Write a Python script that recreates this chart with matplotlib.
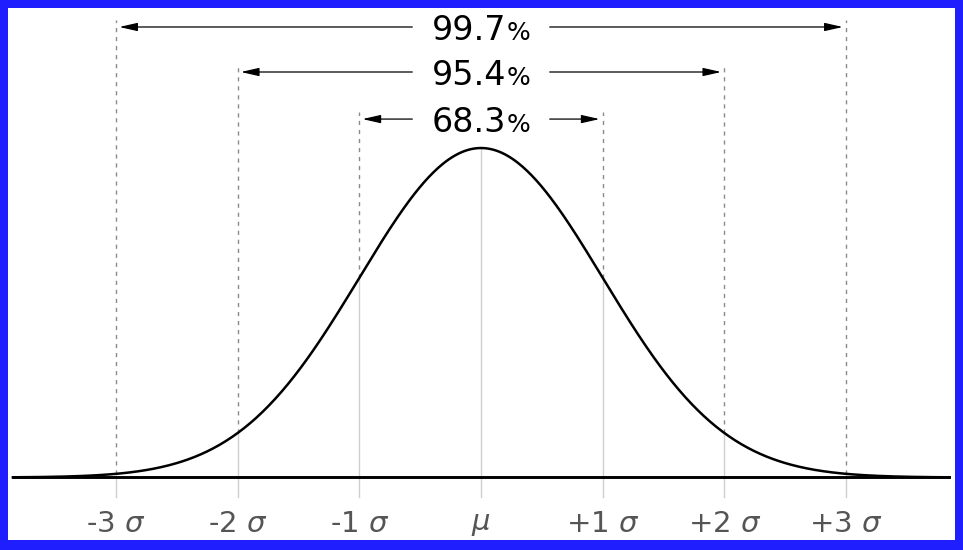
import matplotlib.pyplot as plt
import numpy as np

# sigma positions, their tick labels and the coverage shown above each pair
SIGMAS = [-3, -2, -1, 0, 1, 2, 3]
TICK_LABELS = ['-3 $\\sigma$', '-2 $\\sigma$', '-1 $\\sigma$', '$\\mu$',
               '+1 $\\sigma$', '+2 $\\sigma$', '+3 $\\sigma$']
SPANS = [1, 2, 3]
PERCENTS = ['68.3', '95.4', '99.7']
MU, SIGMA = 0.0, 1.0


def pdf(x):
    return np.exp(-0.5 * ((x - MU) / SIGMA) ** 2) / (SIGMA * np.sqrt(2 * np.pi))


def main():
    fig = plt.figure(figsize=(9.63, 5.5), dpi=100, facecolor='#1e1eff')
    ax = fig.add_axes([8 / 963, 10 / 550, 947 / 963, 532 / 550])
    ax.set_facecolor('white')
    for s in ax.spines.values():
        s.set_visible(False)
    ax.set_xlim(-3.89, 3.898)
    ax.set_ylim(-0.0757, 0.5685)
    ax.set_yticks([])

    bottom = -0.0236
    arrow_y = {1: 0.434, 2: 0.491, 3: 0.5455}

    # grey guide lines: solid below the curve, dashed above it
    for k in SIGMAS:
        ax.plot([k, k], [bottom, pdf(k)], color='#cfcfcf', lw=1.0, zorder=1)
        if k != 0:
            top = arrow_y[abs(k)] + 0.008
            ax.plot([k, k], [pdf(k), top], color='#8a8a8a', lw=1.0,
                    dashes=(3, 3.5), zorder=1)

    x = np.linspace(-3.85, 3.85, 600)
    ax.plot([-3.85, 3.85], [0, 0], color='black', lw=2.1, zorder=3)
    ax.plot(x, pdf(x), color='black', lw=1.8, zorder=3)

    gap = 0.565
    for k, p in zip(SPANS, PERCENTS):
        y = arrow_y[k]
        for sgn in (-1, 1):
            ax.annotate('', xy=(sgn * (k - 0.025), y), xytext=(sgn * gap, y),
                        arrowprops=dict(arrowstyle='-|>,head_length=1.1,head_width=0.25',
                                        color='black', lw=0.9,
                                        shrinkA=0, shrinkB=0))
        ax.text(0.207, y - 0.004, p, ha='right', va='center', fontsize=24,
                color='black')
        ax.text(0.207, y - 0.007, '%', ha='left', va='center', fontsize=18,
                color='black')

    ax.set_xticks(SIGMAS)
    ax.set_xticklabels(TICK_LABELS, fontsize=21, color='#555555')
    ax.tick_params(axis='x', length=0, pad=0)
    for lbl in ax.get_xticklabels():
        lbl.set_y(0.057)

    fig.savefig('out.png', dpi=100, facecolor=fig.get_facecolor())


if __name__ == "__main__":
    main()
